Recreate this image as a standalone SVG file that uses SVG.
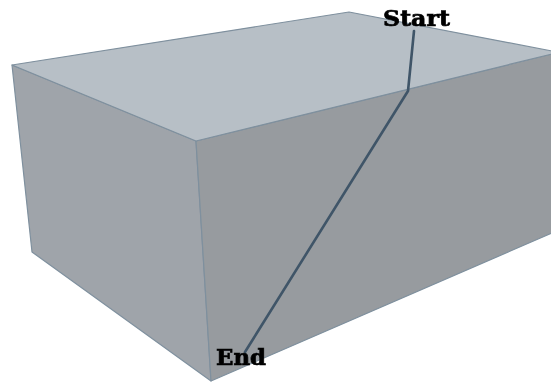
<svg xmlns="http://www.w3.org/2000/svg" width="551" height="382" viewBox="0 0 551 382">
<defs><filter id="soft" x="-5%" y="-5%" width="110%" height="110%"><feGaussianBlur stdDeviation="0.55"/></filter></defs>
<style>
.edge{stroke:#7f909e;stroke-width:1.2;stroke-linejoin:round}
.path{fill:none;stroke:#3f5568;stroke-width:2.6;stroke-linejoin:round;stroke-linecap:round}
.lbl{font-family:"DejaVu Serif",serif;font-weight:bold;font-size:22px;fill:#000;stroke:#000;stroke-width:.7}
</style>
<rect width="551" height="382" fill="#fff"/>
<g filter="url(#soft)">
<g id="block">
<polygon class="edge" points="12,65 196,141 211,381 32,252" fill="#9fa4aa"/>
<polygon class="edge" points="196,141 552,54 552,233 211,381" fill="#979b9f"/>
<polygon class="edge" points="12,65 349,12 552,51 552,54 196,141" fill="#b7bfc6"/>
</g>
<g id="connectors">
<polyline class="path" points="414,31 408,91 245,352"/>
</g>
<g id="start"><text class="lbl" x="383" y="25.500" textLength="67" lengthAdjust="spacingAndGlyphs">Start</text></g>
<g id="end"><text class="lbl" x="216" y="365" textLength="50" lengthAdjust="spacingAndGlyphs">End</text></g>
</g>
</svg>
